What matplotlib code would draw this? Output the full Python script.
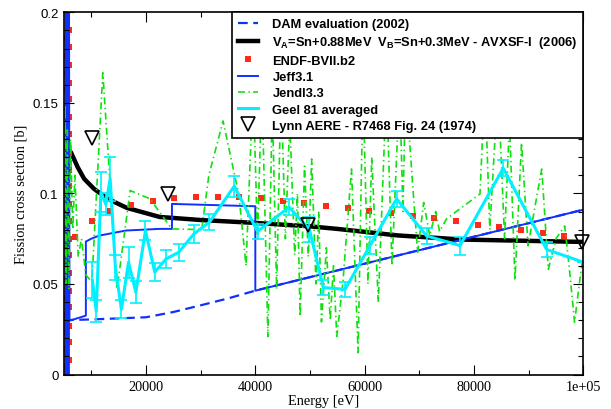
import matplotlib
matplotlib.use("Agg")
import matplotlib.pyplot as plt
from matplotlib.ticker import MultipleLocator
from matplotlib.font_manager import FontProperties
from matplotlib.lines import Line2D

plt.rcParams['lines.scale_dashes'] = False
plt.rcParams['mathtext.fontset'] = 'custom'
plt.rcParams['mathtext.bf'] = 'Liberation Sans:bold'
plt.rcParams['mathtext.rm'] = 'Liberation Sans:bold'

# DAM evaluation (2002)
dam_x = [5000, 10000, 15000, 20000, 25000, 30000, 35000, 40000, 100000]
dam_y = [0.030, 0.0304, 0.031, 0.0316, 0.0345, 0.0382, 0.042, 0.0463, 0.091]

# AVXSF-I (2006)
avx_x = [5000, 6300, 7500, 8700, 10500, 13000, 16500, 22500, 30000, 40000,
         50000, 55000, 66000, 78000, 100000]
avx_y = [0.127, 0.1225, 0.1145, 0.108, 0.1025, 0.097, 0.092, 0.087, 0.0853,
         0.0837, 0.0818, 0.0804, 0.0768, 0.0745, 0.0732]

# ENDF-BVII.b2 (resolved region column + averaged points)
endf_x = [5050] * 20 + [5980] * 20 + [
    7000, 10200, 13400, 17250, 21200, 25200, 29150, 33100, 37100, 41050,
    45000, 48950, 52950, 56900, 60850, 64800, 68800, 72750, 76700, 80700,
    84650, 88600, 92600, 96550]
endf_y = [0.004, 0.014, 0.023, 0.033, 0.042, 0.052, 0.061, 0.071, 0.08, 0.09,
          0.1, 0.109, 0.119, 0.128, 0.138, 0.147, 0.157, 0.166, 0.176, 0.186,
          0.008, 0.018, 0.027, 0.037, 0.046, 0.056, 0.066, 0.075, 0.085, 0.094,
          0.104, 0.113, 0.123, 0.133, 0.142, 0.152, 0.161, 0.171, 0.181, 0.19] + [
    0.0758, 0.0845, 0.0902, 0.0938, 0.096, 0.0975, 0.0978, 0.098, 0.0979,
    0.0973, 0.096, 0.0947, 0.0933, 0.0918, 0.0905, 0.0892, 0.0877, 0.0863,
    0.0846, 0.0828, 0.0815, 0.0797, 0.078, 0.0765]

# Jeff3.1
jeff_x = [5250, 5320, 5400, 5470, 5540, 5610, 5680, 5750, 5820, 5900, 6000,
          9000, 9000, 10000, 11450, 16340, 22430, 24750, 24750, 40000, 40000,
          100000]
jeff_y = [0.0, 0.25, 0.0, 0.25, 0.0, 0.25, 0.0, 0.25, 0.0, 0.25, 0.0297,
          0.0325, 0.0734, 0.075, 0.0767, 0.0795, 0.0804, 0.0804, 0.0942,
          0.0929, 0.0463, 0.091]

# Jendl3.3
jendl_x = [5000, 5200, 5400, 5600, 5900, 6200, 6600, 7000, 7600, 8200, 9000,
           10100, 12100, 14700, 17100, 20750, 24700, 30200, 31500, 34100,
           37000, 38300, 39600, 40400, 41200, 42300, 43100, 43900, 44700,
           45500, 46300, 47200, 47700, 48200, 49000, 49700, 50300, 51100,
           51600, 52100, 53000, 53700, 54300, 54900, 56000, 57600, 58800,
           59700, 60600, 61300, 62500, 64000, 65000, 66400, 67000, 67500,
           68800, 69700, 70800, 71900, 73000, 73700, 75000, 79000, 81100,
           82000, 82900, 84400, 85600, 86500, 87500, 88700, 89900, 91000,
           92400, 93600, 95000, 96600, 97400, 98400, 99600, 100000]
jendl_y = [0.06, 0.149, 0.05, 0.135, 0.047, 0.13, 0.08, 0.11, 0.065, 0.075,
           0.055, 0.051, 0.1666, 0.047, 0.1016, 0.097, 0.0804, 0.080, 0.110,
           0.140, 0.099, 0.06, 0.16, 0.075, 0.16, 0.021, 0.15, 0.047, 0.16,
           0.075, 0.14, 0.066, 0.10, 0.032, 0.115, 0.065, 0.119, 0.05, 0.09,
           0.029, 0.07, 0.03, 0.06, 0.021, 0.05, 0.1135, 0.012, 0.16, 0.05,
           0.12, 0.04, 0.16, 0.06, 0.16, 0.09, 0.16, 0.104, 0.0675, 0.095,
           0.0767, 0.09, 0.079, 0.086, 0.095, 0.0997, 0.16, 0.080, 0.16,
           0.075, 0.14, 0.052, 0.128, 0.071, 0.09, 0.1135, 0.058, 0.075,
           0.082, 0.06, 0.0288, 0.058, 0.066]

# Geel 81 averaged
geel_x = [10200, 10900, 11750, 12650, 13450, 14400, 15500, 16800, 18150,
          19900, 21600, 23650, 26000, 28750, 31600, 36150, 40400, 46200,
          49900, 52450, 56400, 61000, 65850, 71350, 77450, 85350, 93300,
          100000]
geel_y = [0.052, 0.035, 0.1006, 0.094, 0.108, 0.0592, 0.036, 0.062, 0.0454,
          0.0795, 0.0565, 0.0638, 0.0675, 0.0776, 0.0841, 0.104, 0.079,
          0.0924, 0.080, 0.048, 0.047, 0.0712, 0.097, 0.0765, 0.0712, 0.1139,
          0.069, 0.062]
geel_err = [0.010, 0.006, 0.011, 0.006, 0.012, 0.007, 0.005, 0.0085, 0.006,
            0.0055, 0.0048, 0.005, 0.0047, 0.0048, 0.0045, 0.0058, 0.0042,
            0.0043, 0.007, 0.004, 0.004, 0.0045, 0.0046, 0.0045, 0.005,
            0.0045, 0.004, 0.0]

# Lynn AERE - R7468 Fig. 24 (1974)
lynn_x = [10200, 24100, 49700, 99800]
lynn_y = [0.1308, 0.0994, 0.0826, 0.0734]

labels = ['DAM evaluation (2002)',
          r'V$_\mathbf{A}$=Sn+0.88MeV  V$_\mathbf{B}$=Sn+0.3MeV - AVXSF-I  (2006)',
          'ENDF-BVII.b2', 'Jeff3.1', 'Jendl3.3', 'Geel 81 averaged',
          'Lynn AERE - R7468 Fig. 24 (1974)']

fig = plt.figure(figsize=(6.11, 4.10), dpi=100)
ax = fig.add_axes([64 / 611, 1 - 375.5 / 410, (583.3 - 64) / 611, (375.5 - 13.3) / 410])

h_dam, = ax.plot(dam_x, dam_y, color='#1030ff', lw=1.6, dashes=(7, 4), zorder=2.0)
h_avx, = ax.plot(avx_x, avx_y, color='black', lw=3.2, zorder=2.1)
h_endf, = ax.plot(endf_x, endf_y, ls='none', marker='s', ms=4.3, mew=0,
                  color='#ff2a1a', zorder=2.2)
h_jeff, = ax.plot(jeff_x, jeff_y, color='#1030ff', lw=1.4, zorder=2.3)
h_jendl, = ax.plot(jendl_x, jendl_y, color='#10e010', lw=1.2,
                   dashes=(5, 2.5, 1, 2.5), zorder=2.4)
ax.errorbar(geel_x, geel_y, yerr=geel_err, color='#00f0ff', lw=2.2,
            elinewidth=1.2, capsize=4, capthick=1.2, zorder=2.5)
h_geel = Line2D([], [], color='#00f0ff', lw=2.2)
h_lynn, = ax.plot(lynn_x, lynn_y, ls='none', marker='v', ms=10, mfc='none',
                  mec='black', mew=1.2, zorder=2.6, clip_on=False)

ax.set_xlim(5000, 100000)
ax.set_ylim(0, 0.2)
ax.set_axisbelow(False)

ax.set_xticks([20000, 40000, 60000, 80000, 100000])
ax.set_xticklabels(['20000', '40000', '60000', '80000', '1e+05'],
                   fontfamily='Liberation Serif', fontsize=10.3)
ax.xaxis.set_minor_locator(MultipleLocator(10000))
ax.set_yticks([0, 0.05, 0.1, 0.15, 0.2])
ax.set_yticklabels(['0', '0.05', '0.1', '0.15', '0.2'],
                   fontfamily='Liberation Sans', fontsize=9.5)
ax.yaxis.set_minor_locator(MultipleLocator(0.01))
ax.tick_params(which='both', direction='in', top=True, right=True, width=0.8,
               zorder=3)
ax.tick_params(which='major', length=7, pad=4)
ax.tick_params(which='minor', length=3.6)
for s in ax.spines.values():
    s.set_linewidth(1.2)
    s.set_zorder(3)

ax.set_xlabel('Energy [eV]', fontfamily='Liberation Serif', fontsize=10.4,
              labelpad=1)
ax.set_ylabel('Fission cross section [b]', fontfamily='Liberation Serif',
              fontsize=10.4, labelpad=4)

leg = ax.legend([h_dam, h_avx, h_endf, h_jeff, h_jendl, h_geel, h_lynn], labels,
                loc='upper right', borderaxespad=0, fancybox=False,
                framealpha=1, edgecolor='black', handlelength=1.55,
                handletextpad=1.1, borderpad=0.45, labelspacing=0.33,
                prop=FontProperties(family='Liberation Sans', weight='bold',
                                    size=9.3))
leg.get_frame().set_linewidth(1.2)
leg.set_zorder(5)

fig.savefig('out.png', dpi=100)
